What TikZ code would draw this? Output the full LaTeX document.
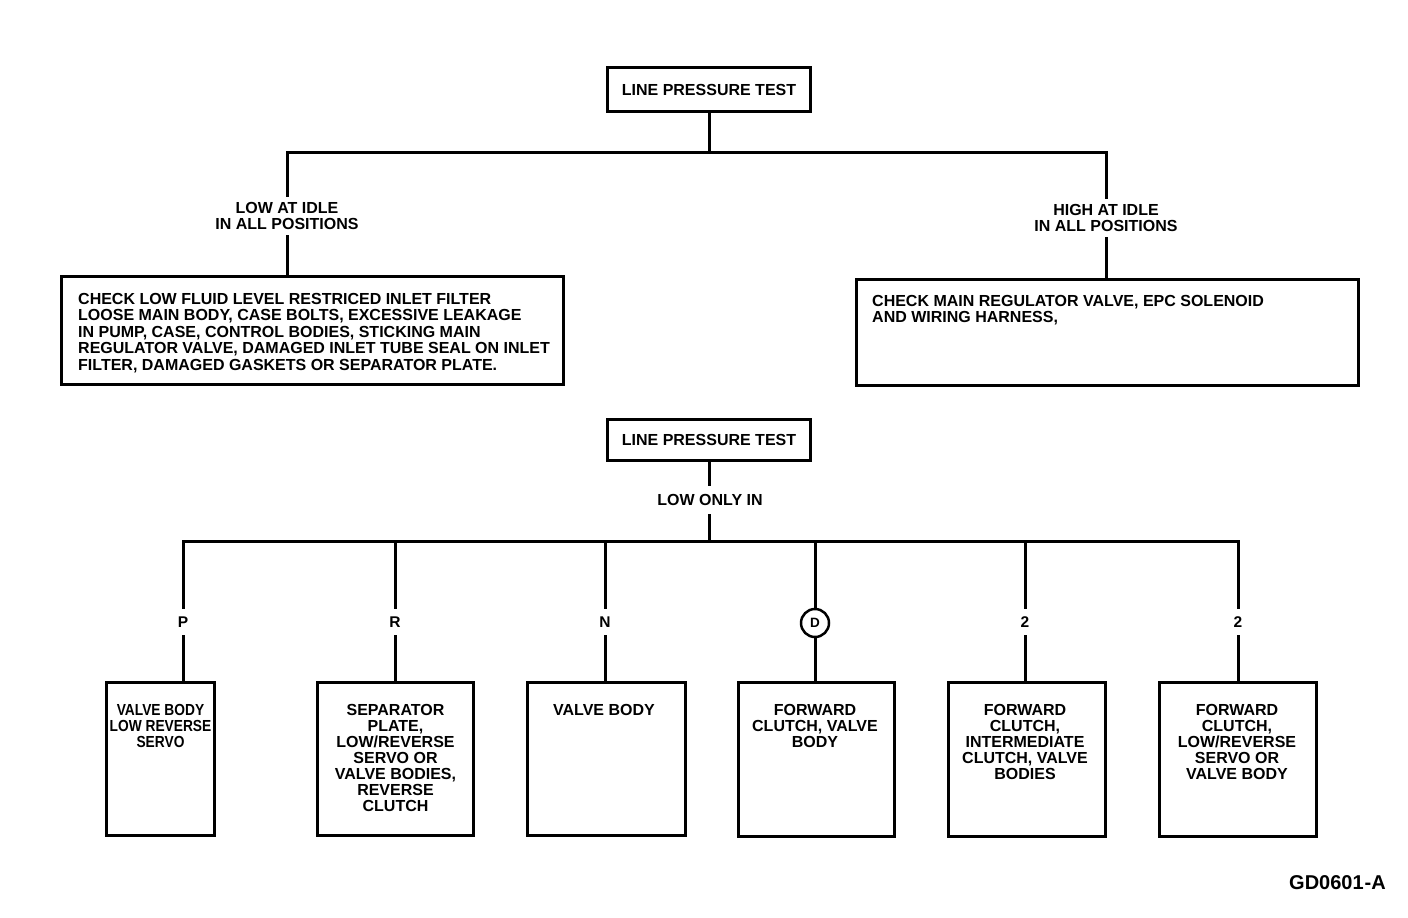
\documentclass[tikz,border=0pt]{standalone}
\usepackage{fontspec}
\usepackage{graphicx}
\setmainfont{Liberation Sans}
\begin{document}
\begin{tikzpicture}[x=1pt,y=-1pt,
  conn/.style={line width=3pt, line cap=rect},
  box/.style={draw, line width=3pt, inner sep=0pt},
  txt/.style={font=\fontsize{16}{16}\selectfont\bfseries, inner sep=0pt, align=center},
  txtl/.style={font=\fontsize{16}{16.5}\selectfont\bfseries, inner sep=0pt, align=left},
  lbl/.style={font=\fontsize{16}{16}\selectfont\bfseries, inner xsep=0pt, align=center},
  brl/.style={font=\fontsize{15.5}{16}\selectfont\bfseries, inner xsep=0pt, inner ysep=9pt, text height=11pt, text depth=0pt},
  circ/.style={draw, circle, line width=2.5pt, minimum size=28pt, inner sep=0pt, font=\fontsize{13.5}{14}\selectfont\bfseries}
]
\useasboundingbox (0,0) rectangle (1408,918);

% ---------- upper tree ----------
\node[box, txt, minimum width=203pt, minimum height=44pt] (top1) at (709,89.5) {LINE PRESSURE TEST};
\coordinate (hbL) at (287,152);
\coordinate (hbM) at (709,152);
\coordinate (hbR) at (1106,152);

\node[lbl, inner ysep=7pt] (lowlbl) at (287,216) {LOW AT IDLE\\IN ALL POSITIONS};
\node[lbl, inner ysep=7pt] (highlbl) at (1106,218) {HIGH AT IDLE\\IN ALL POSITIONS};

\node[box, minimum width=502pt, minimum height=108pt] (lbox) at (312.5,330.5) {};
\node[box, minimum width=502pt, minimum height=106pt] (rbox) at (1107.5,332.5) {};
\node[txtl, anchor=north west] (ltext) at (78,293) {CHECK LOW FLUID LEVEL RESTRICED INLET FILTER\\LOOSE MAIN BODY, CASE BOLTS, EXCESSIVE LEAKAGE\\IN PUMP, CASE, CONTROL BODIES, STICKING MAIN\\REGULATOR VALVE, DAMAGED INLET TUBE SEAL ON INLET\\FILTER, DAMAGED GASKETS OR SEPARATOR PLATE.};
\node[txtl, anchor=north west] (rtext) at (872,295) {CHECK MAIN REGULATOR VALVE, EPC SOLENOID\\AND WIRING HARNESS,};

\draw[conn] (top1.south) -- (hbM);
\draw[conn] (lowlbl.north) -- (hbL) -- (hbR) -- (highlbl.north);
\draw[conn] (lowlbl.south) -- (lowlbl.south |- lbox.north);
\draw[conn] (highlbl.south) -- (highlbl.south |- rbox.north);

% ---------- lower tree ----------
\node[box, txt, minimum width=203pt, minimum height=41pt] (top2) at (709,440) {LINE PRESSURE TEST};
\node[lbl, inner ysep=10pt] (lowonly) at (710,500) {LOW ONLY IN};
\coordinate (bM) at (709,541);
\coordinate (jP) at (183,541);
\coordinate (jR) at (395,541);
\coordinate (jN) at (605,541);
\coordinate (jD) at (815,541);
\coordinate (j2a) at (1025,541);
\coordinate (j2b) at (1238,541);

\draw[conn] (top2.south) -- (top2.south |- lowonly.north);
\draw[conn] (top2.south |- lowonly.south) -- (bM);
\draw[conn] (jP) -- (j2b);

\node[brl] (lP) at (183,622) {P};
\node[brl] (lR) at (395,622) {R};
\node[brl] (lN) at (605,622) {N};
\node[circ] (lD) at (815,623) {D};
\node[brl] (l2a) at (1025,622) {2};
\node[brl] (l2b) at (1238,622) {2};

\node[box, minimum width=108pt, minimum height=153pt] (b1) at (160.5,759) {};
\node[box, minimum width=156pt, minimum height=153pt] (b2) at (395.5,759) {};
\node[box, minimum width=158pt, minimum height=153pt] (b3) at (606.5,759) {};
\node[box, minimum width=156pt, minimum height=154pt] (b4) at (816.5,759.5) {};
\node[box, minimum width=157pt, minimum height=154pt] (b5) at (1027,759.5) {};
\node[box, minimum width=157pt, minimum height=154pt] (b6) at (1238,759.5) {};

\node[txt, anchor=north] (t1) at (160.5,704) {\scalebox{0.86}[1]{\begin{tabular}{@{}c@{}}VALVE BODY\\LOW REVERSE\\SERVO\end{tabular}}};
\node[txt, anchor=north] (t2) at (395.5,704) {SEPARATOR\\PLATE,\\LOW/REVERSE\\SERVO OR\\VALVE BODIES,\\REVERSE\\CLUTCH};
\node[txt, anchor=north] (t3) at (604,704) {VALVE BODY};
\node[txt, anchor=north] (t4) at (815,704) {FORWARD\\CLUTCH, VALVE\\BODY};
\node[txt, anchor=north] (t5) at (1025,704) {FORWARD\\CLUTCH,\\INTERMEDIATE\\CLUTCH, VALVE\\BODIES};
\node[txt, anchor=north] (t6) at (1237,704) {FORWARD\\CLUTCH,\\LOW/REVERSE\\SERVO OR\\VALVE BODY};

\foreach \j/\l/\b in {jP/lP/b1, jR/lR/b2, jN/lN/b3, jD/lD/b4, j2a/l2a/b5, j2b/l2b/b6}{
  \draw[conn] (\j) -- (\l.north);
  \draw[conn] (\l.south) -- (\l.south |- \b.north);
}

\node[font=\fontsize{20}{21}\selectfont\bfseries, inner sep=0pt, anchor=east] (code) at (1386,883) {GD0601\kern1pt-A};
\end{tikzpicture}
\end{document}
